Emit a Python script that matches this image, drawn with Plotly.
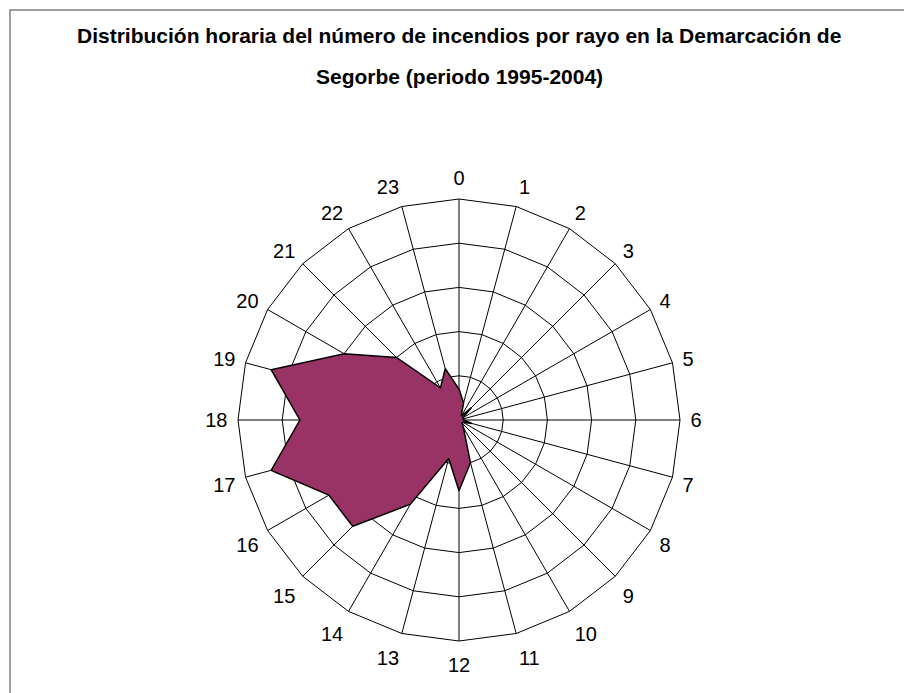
import plotly.graph_objects as go

hours = [str(h) for h in range(24)]
fires = [3.5, 2, 0.5, 2, 0.5, 0.5, 0.5, 1.5, 0.5, 0.5, 1, 5,
         8, 4.5, 11, 17, 17, 22, 18, 22, 15, 10, 4.2, 6]

title_line1 = "Distribución horaria del número de incendios por rayo en la Demarcación de"
title_line2 = "Segorbe (periodo 1995-2004)"

# page has an 8px body margin; figure coordinates = page coordinates - 8
OFF = 8
W, H = 912 - OFF, 693 - OFF
cx, cy, R = 459 - OFF, 420 - OFF, 221

fig = go.Figure()
fig.add_trace(go.Scatterpolar(
    r=fires + [fires[0]],
    theta=hours + [hours[0]],
    mode="lines",
    fill="toself",
    fillcolor="#993366",
    line=dict(color="black", width=1.5),
    hoverinfo="skip",
))

title_font = dict(family="Liberation Sans, Arial, sans-serif", size=21, color="black")

fig.update_layout(
    width=W, height=H,
    margin=dict(l=0, r=0, t=0, b=0),
    paper_bgcolor="white",
    plot_bgcolor="white",
    showlegend=False,
    font=dict(family="Liberation Sans, Arial, sans-serif", size=20, color="black"),
    polar=dict(
        domain=dict(x=[(cx - R) / W, (cx + R) / W],
                    y=[(H - cy - R) / H, (H - cy + R) / H]),
        bgcolor="white",
        gridshape="linear",
        angularaxis=dict(
            type="category",
            categoryarray=hours,
            direction="clockwise",
            rotation=90,
            showgrid=True, gridcolor="black", gridwidth=1,
            showline=True, linecolor="black", linewidth=1,
            ticks="outside", ticklen=6, tickcolor="rgba(0,0,0,0)",
            tickfont=dict(size=20, color="black"),
        ),
        radialaxis=dict(
            range=[0, 25], dtick=5,
            showgrid=True, gridcolor="black", gridwidth=1,
            showline=False, showticklabels=False, ticks="",
        ),
    ),
    shapes=[dict(type="rect", xref="paper", yref="paper",
                 x0=(10 - OFF) / W, x1=1.05, y0=-0.05, y1=1 - (10 - OFF) / H,
                 line=dict(color="#808080", width=1.5), fillcolor="rgba(0,0,0,0)")],
    annotations=[
        dict(text="<b>" + title_line1 + "</b>", x=cx / W, y=1 - (36 - OFF) / H,
             xref="paper", yref="paper", showarrow=False, xanchor="center", yanchor="middle",
             font=title_font),
        dict(text="<b>" + title_line2 + "</b>", x=cx / W, y=1 - (76 - OFF) / H,
             xref="paper", yref="paper", showarrow=False, xanchor="center", yanchor="middle",
             font=title_font),
    ],
)

fig.write_html("out.html")
